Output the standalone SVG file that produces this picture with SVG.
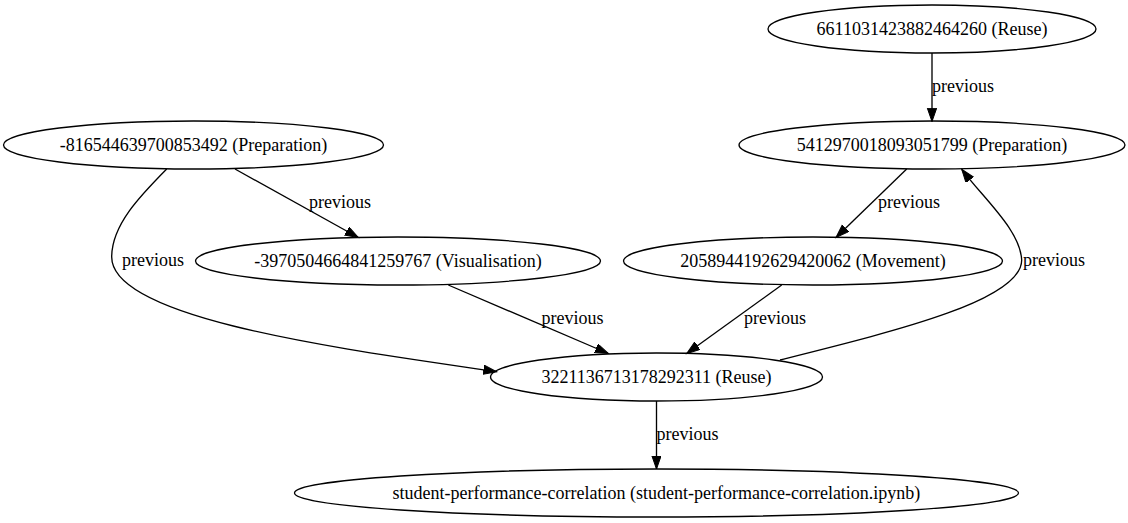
<svg xmlns="http://www.w3.org/2000/svg" width="1128" height="523" viewBox="0 0 1128 523">
<style>
.node ellipse{fill:none;stroke:#000;stroke-width:1.33}
.node text{font-family:"Liberation Serif","Times New Roman",serif;font-size:18px;text-anchor:middle;fill:#000}
.edge path{fill:none;stroke:#000;stroke-width:1.33;marker-end:url(#arr)}
.lbl{font-family:"Liberation Serif","Times New Roman",serif;font-size:18px;fill:#000}
</style>
<defs>
<marker id="arr" markerUnits="userSpaceOnUse" markerWidth="15" markerHeight="11" refX="13.3" refY="4.67" orient="auto">
<path d="M0,0 L13.3,4.67 L0,9.33 z" fill="#000" stroke="#000" stroke-width="1"/>
</marker>
</defs>
<rect width="1128" height="523" fill="#fff"/>
<g id="nodeA" class="node"><ellipse cx="932" cy="29" rx="164" ry="24"/><text x="932" y="35">6611031423882464260 (Reuse)</text></g>
<g id="nodeB" class="node"><ellipse cx="932" cy="145" rx="193" ry="24"/><text x="932" y="151">5412970018093051799 (Preparation)</text></g>
<g id="nodeC" class="node"><ellipse cx="193.5" cy="145" rx="190" ry="24"/><text x="193.5" y="151">-816544639700853492 (Preparation)</text></g>
<g id="nodeD" class="node"><ellipse cx="398" cy="261" rx="202.5" ry="24"/><text x="398" y="267">-3970504664841259767 (Visualisation)</text></g>
<g id="nodeE" class="node"><ellipse cx="813" cy="261" rx="189.5" ry="24"/><text x="813" y="267">2058944192629420062 (Movement)</text></g>
<g id="nodeF" class="node"><ellipse cx="656.5" cy="377" rx="166" ry="24"/><text x="656.5" y="383">3221136713178292311 (Reuse)</text></g>
<g id="nodeG" class="node"><ellipse cx="656.5" cy="493" rx="362" ry="24"/><text x="656.5" y="499">student-performance-correlation (student-performance-correlation.ipynb)</text></g>
<g id="edges" class="edge">
<path d="M932,53 L932,121.5"/>
<text class="lbl" x="932" y="92">previous</text>
<path d="M906.7,169 L836,237.5"/>
<text class="lbl" x="878" y="208">previous</text>
<path d="M235,169 L358.3,237.5"/>
<text class="lbl" x="309" y="208">previous</text>
<path d="M166.7,169 C140,196 111.7,225 111.7,257 C111.7,320 350,350 496.7,371.7"/>
<text class="lbl" x="122" y="266">previous</text>
<path d="M448.3,285 L608.3,353.5"/>
<text class="lbl" x="541.5" y="324">previous</text>
<path d="M781.7,285 L686.7,353.5"/>
<text class="lbl" x="744" y="324">previous</text>
<path d="M780,360 C900,330 1021.7,300 1021.7,260 C1020,230 985,200 961.7,169.3"/>
<text class="lbl" x="1023" y="266">previous</text>
<path d="M656.5,401 L656.5,469"/>
<text class="lbl" x="656.5" y="440">previous</text>
</g>
</svg>
